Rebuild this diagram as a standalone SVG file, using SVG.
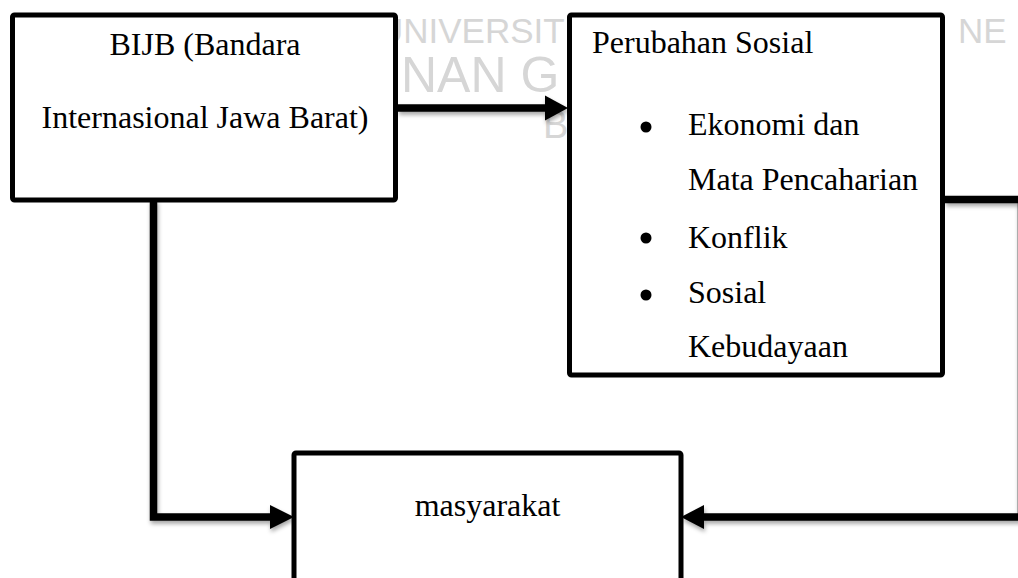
<svg xmlns="http://www.w3.org/2000/svg" width="1018" height="578" viewBox="0 0 1018 578">
<style>
.wm{font-family:"Liberation Sans",Arial,sans-serif;fill:#d6d6d6}
.box{fill:#fff;stroke:#000;stroke-width:5;stroke-linejoin:round}
.t{font-family:"Liberation Serif","Times New Roman",serif;font-size:32px;fill:#000}
.c{fill:none;stroke:#000;stroke-width:7.5;stroke-linejoin:miter;stroke-linecap:butt}
.ah{fill:#000;stroke:none}
</style>
<defs>
<filter id="sh" x="-5%" y="-5%" width="110%" height="120%">
<feDropShadow dx="1" dy="3" stdDeviation="2" flood-color="#000" flood-opacity="0.35"/>
</filter>
</defs>
<rect width="1018" height="578" fill="#fff"/>
<g id="watermark">
<text class="wm" x="378" y="43" font-size="35">UNIVERSIT</text>
<text class="wm" x="958" y="43" font-size="35">NE</text>
<text class="wm" x="401" y="92" font-size="50">NAN G</text>
<text class="wm" x="543" y="138" font-size="38">B</text>
</g>
<g id="connectors" filter="url(#sh)">
<path class="c" d="M398 108 H548"/>
<polygon class="ah" points="568,108 545,95.5 545,120.5"/>
<path class="c" d="M153.5 200 V517 H274"/>
<polygon class="ah" points="294,517 270,505 270,529"/>
<path class="c" d="M945 199.5 H1021.5 V517 H700"/>
<polygon class="ah" points="681,517 704,505 704,529"/>
</g>
<g id="bijb">
<rect class="box" x="12.5" y="15" width="383" height="185" rx="2"/>
<text class="t" x="205" y="55" text-anchor="middle">BIJB (Bandara</text>
<text class="t" x="205" y="128" text-anchor="middle">Internasional Jawa Barat)</text>
</g>
<g id="perubahan">
<rect class="box" x="569.5" y="15" width="373" height="360" rx="2"/>
<text class="t" x="592" y="53">Perubahan Sosial</text>
<circle cx="646" cy="127" r="5.5"/>
<text class="t" x="688" y="135">Ekonomi dan</text>
<text class="t" x="688" y="190">Mata Pencaharian</text>
<circle cx="646" cy="238" r="5.5"/>
<text class="t" x="688" y="248">Konflik</text>
<circle cx="646" cy="295" r="5.5"/>
<text class="t" x="688" y="303">Sosial</text>
<text class="t" x="688" y="357">Kebudayaan</text>
</g>
<g id="masyarakat">
<rect class="box" x="294" y="453" width="387" height="200" rx="2"/>
<text class="t" x="487.5" y="516" text-anchor="middle">masyarakat</text>
</g>
</svg>
